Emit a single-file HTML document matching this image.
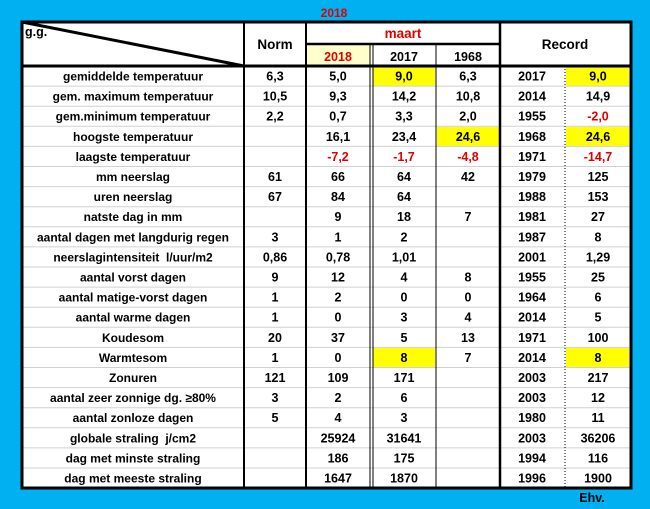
<!DOCTYPE html>
<html><head><meta charset="utf-8"><style>
html,body{margin:0;padding:0;background:#00B0F0;}
svg{display:block;}
text{font-family:"Liberation Sans",sans-serif;font-weight:bold;font-size:12.5px;}
</style></head><body>
<svg width="650" height="509" xmlns="http://www.w3.org/2000/svg">
<rect width="650" height="509" fill="#00B0F0"/>
<rect x="22" y="22" width="609" height="466" fill="#fff"/>
<rect x="307" y="45" width="64" height="21" fill="#FFFFCC"/>
<g id="hl" fill="#FFFF00">
<rect x="373" y="67" width="62" height="19"/><rect x="566" y="67" width="63" height="19"/>
<rect x="437" y="127" width="62" height="19"/><rect x="566" y="127" width="63" height="19"/>
<rect x="373" y="348" width="62" height="19"/><rect x="566" y="348" width="63" height="19"/>
</g>
<g stroke="#d0d0d0" stroke-width="1" id="rows"></g>
<g stroke="#000" fill="none">
<line x1="22" y1="22" x2="244" y2="66" stroke-width="3"/>
<line x1="306" y1="44" x2="500" y2="44" stroke-width="2.5"/>
<line x1="22" y1="66" x2="631" y2="66" stroke-width="3"/>
<line x1="244" y1="22" x2="244" y2="488" stroke-width="2"/>
<line x1="306" y1="22" x2="306" y2="488" stroke-width="2"/>
<line x1="370" y1="44" x2="370" y2="488" stroke-width="1"/>
<line x1="373" y1="44" x2="373" y2="488" stroke-width="1"/>
<line x1="436" y1="44" x2="436" y2="488" stroke-width="1"/>
<line x1="500" y1="22" x2="500" y2="488" stroke-width="2.5"/>
<line x1="565" y1="66" x2="565" y2="488" stroke-width="1" stroke-dasharray="1,2"/>
<rect x="22" y="22" width="609" height="466" stroke-width="3"/>
</g>
<text x="334" y="17" text-anchor="middle" fill="#E00000" style="font-size:12px">2018</text>
<text x="25" y="36" font-weight="normal">g.g.</text>
<text x="275" y="49" text-anchor="middle" style="font-size:13.5px">Norm</text>
<text x="403" y="38" text-anchor="middle" fill="#E00000" style="font-size:13.5px">maart</text>
<text x="565" y="49" text-anchor="middle" style="font-size:13.5px">Record</text>
<text x="338" y="61" text-anchor="middle" fill="#E00000">2018</text>
<text x="404" y="61" text-anchor="middle">2017</text>
<text x="468" y="61" text-anchor="middle">1968</text>
<text x="592" y="502" text-anchor="middle">Ehv.</text>
<g id="data"></g>
</svg>
<script>
var rows=[
["gemiddelde temperatuur","6,3","5,0","9,0","6,3","2017","9,0"],
["gem. maximum temperatuur","10,5","9,3","14,2","10,8","2014","14,9"],
["gem.minimum temperatuur","2,2","0,7","3,3","2,0","1955","-2,0r"],
["hoogste temperatuur","","16,1","23,4","24,6","1968","24,6"],
["laagste temperatuur","","-7,2r","-1,7r","-4,8r","1971","-14,7r"],
["mm neerslag","61","66","64","42","1979","125"],
["uren neerslag","67","84","64","","1988","153"],
["natste dag in mm","","9","18","7","1981","27"],
["aantal dagen met langdurig regen","3","1","2","","1987","8"],
["neerslagintensiteit  l/uur/m2","0,86","0,78","1,01","","2001","1,29"],
["aantal vorst dagen","9","12","4","8","1955","25"],
["aantal matige-vorst dagen","1","2","0","0","1964","6"],
["aantal warme dagen","1","0","3","4","2014","5"],
["Koudesom","20","37","5","13","1971","100"],
["Warmtesom","1","0","8","7","2014","8"],
["Zonuren","121","109","171","","2003","217"],
["aantal zeer zonnige dg. \u226580%","3","2","6","","2003","12"],
["aantal zonloze dagen","5","4","3","","1980","11"],
["globale straling  j/cm2","","25924","31641","","2003","36206"],
["dag met minste straling","","186","175","","1994","116"],
["dag met meeste straling","","1647","1870","","1996","1900"]];
var xs=[133,275,338,404,468,532,598];
var ns="http://www.w3.org/2000/svg",g=document.getElementById("data"),lg=document.getElementById("rows");
var h=20.1;
rows.forEach(function(r,i){
 var cy=76+i*h;
 if(i>0){var l=document.createElementNS(ns,"line");l.setAttribute("x1",22);l.setAttribute("x2",631);
 var y=66+i*h;l.setAttribute("y1",y);l.setAttribute("y2",y);lg.appendChild(l);}
 r.forEach(function(v,j){
  if(!v)return;var t=document.createElementNS(ns,"text");var red=false;
  if(v.slice(-1)=="r"&&j>0){v=v.slice(0,-1);red=true;}
  t.setAttribute("x",xs[j]);t.setAttribute("y",cy+4.5);t.setAttribute("text-anchor","middle");
  if(red)t.setAttribute("fill","#E00000");
  if(j==0)t.setAttribute("style","font-size:12px;white-space:pre");
  t.textContent=v;g.appendChild(t);
 });
});
</script>
</body></html>
